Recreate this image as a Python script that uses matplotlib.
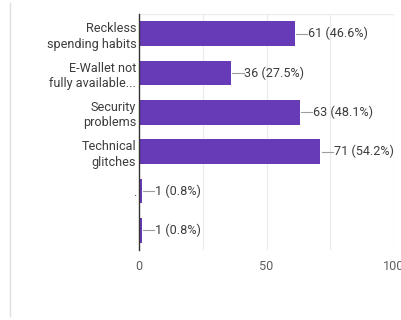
import matplotlib
matplotlib.use("Agg")
import matplotlib.pyplot as plt
from matplotlib.lines import Line2D

categories = ["Reckless\nspending habits", "E-Wallet not\nfully available...", "Security\nproblems",
              "Technical\nglitches", ".", ""]
values = [61, 36, 63, 71, 1, 1]
percents = ["46.6%", "27.5%", "48.1%", "54.2%", "0.8%", "0.8%"]
xticks = [0, 50, 100]

plt.rcParams['font.family'] = ['Roboto', 'DejaVu Sans']

fig = plt.figure(figsize=(4.01, 3.2), dpi=100)
W, H = 401, 320
ax = fig.add_axes([139 / W, 1 - 250 / H, (394 - 139) / W, (250 - 14) / H])

n = len(categories)
ys = list(range(n))
ax.barh(ys, values, height=0.62, color="#673ab7", zorder=3)
ax.set_xlim(0, 100)
ax.set_ylim(n - 0.5, -0.5)

for g in [25, 50, 75, 100]:
    ax.axvline(g, color="#ebebeb", lw=0.9, zorder=1)
ax.axhline(-0.5, color="#ebebeb", lw=0.9, zorder=1)

fs = 9.1
for y, v, p in zip(ys, values, percents):
    ax.plot([v + 0.6, v + 5.0], [y, y], color="#9e9e9e", lw=0.8, zorder=4, clip_on=False)
    ax.text(v + 5.3, y, f"{v} ({p})", va="center", ha="left", fontsize=fs, color="#3c3c3c")

ax.set_yticks(ys)
ax.set_yticklabels(categories, fontsize=fs, color="#3c3c3c", linespacing=1.25)
ax.set_xticks(xticks)
ax.set_xticklabels([str(t) for t in xticks], fontsize=fs, color="#5f5f5f")
ax.tick_params(axis="both", length=0)
ax.tick_params(axis="y", pad=2)
ax.tick_params(axis="x", pad=7)

for s in ["top", "right", "bottom"]:
    ax.spines[s].set_visible(False)
ax.spines["left"].set_color("#333333")
ax.spines["left"].set_linewidth(1.0)
ax.spines["left"].set_zorder(5)

fig.add_artist(Line2D([9.5 / W, 9.5 / W], [4 / H, 1 - 3 / H], transform=fig.transFigure,
                      color="#e0e0e0", lw=1.0))

fig.savefig("out.png", dpi=100)
